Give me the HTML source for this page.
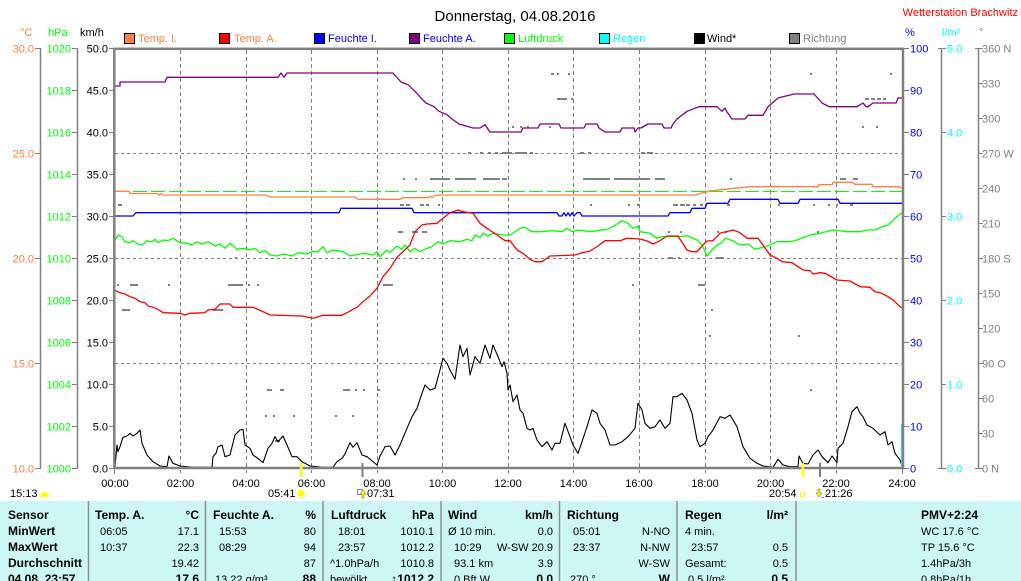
<!DOCTYPE html>
<html><head><meta charset="utf-8"><style>
html,body{margin:0;padding:0;background:#fff;}
svg{display:block;font-family:"Liberation Sans",Arial,sans-serif;}
</style></head><body>
<svg width="1021" height="581" viewBox="0 0 1021 581" xmlns="http://www.w3.org/2000/svg">
<rect x="0" y="0" width="1021" height="581" fill="#fff"/>
<!-- title -->
<text x="515" y="21" font-size="15" text-anchor="middle" fill="#000">Donnerstag, 04.08.2016</text>
<text x="1018" y="16" font-size="11" text-anchor="end" fill="#ff0000">Wetterstation Brachwitz</text>
<!-- units -->
<text x="20" y="36" font-size="11" fill="#ff8040">°C</text>
<text x="48" y="36" font-size="11" fill="#00ff00">hPa</text>
<text x="80" y="36" font-size="11" fill="#000">km/h</text>
<text x="905" y="36" font-size="11" fill="#0000ff">%</text>
<text x="942" y="36" font-size="11" fill="#00ffff">l/m²</text>
<text x="979" y="36" font-size="11" fill="#808080">°</text>
<!-- legend -->
<g font-size="11">
<rect x="124.5" y="33.5" width="10" height="10" fill="#ff8040" stroke="#000"/><text x="138" y="42" fill="#ff8040">Temp. I.</text>
<rect x="219.5" y="33.5" width="10" height="10" fill="#ff0000" stroke="#000"/><text x="234" y="42" fill="#ff8040">Temp. A.</text>
<rect x="314.5" y="33.5" width="10" height="10" fill="#0000ff" stroke="#000"/><text x="328" y="42" fill="#0000ff">Feuchte I.</text>
<rect x="409.5" y="33.5" width="10" height="10" fill="#800080" stroke="#000"/><text x="423" y="42" fill="#0000ff">Feuchte A.</text>
<rect x="504.5" y="33.5" width="10" height="10" fill="#00ff00" stroke="#000"/><text x="518" y="42" fill="#00ff00">Luftdruck</text>
<rect x="599.5" y="33.5" width="10" height="10" fill="#00ffff" stroke="#000"/><text x="613" y="42" fill="#00ffff">Regen</text>
<rect x="694.5" y="33.5" width="10" height="10" fill="#000" stroke="#000"/><text x="707" y="42" fill="#000">Wind*</text>
<rect x="789.5" y="33.5" width="10" height="10" fill="#808080" stroke="#000"/><text x="803" y="42" fill="#808080">Richtung</text>
</g>
<!-- grid -->
<g stroke="#808080" stroke-width="1" stroke-dasharray="4,3" fill="none">
<line x1="180.5" y1="50" x2="180.5" y2="473"/>
<line x1="246.5" y1="50" x2="246.5" y2="473"/>
<line x1="311.5" y1="50" x2="311.5" y2="473"/>
<line x1="377.5" y1="50" x2="377.5" y2="473"/>
<line x1="442.5" y1="50" x2="442.5" y2="473"/>
<line x1="508.5" y1="50" x2="508.5" y2="473"/>
<line x1="573.5" y1="50" x2="573.5" y2="473"/>
<line x1="639.5" y1="50" x2="639.5" y2="473"/>
<line x1="705.5" y1="50" x2="705.5" y2="473"/>
<line x1="770.5" y1="50" x2="770.5" y2="473"/>
<line x1="836.5" y1="50" x2="836.5" y2="473"/>
</g>
<g stroke="#808080" stroke-width="1" stroke-dasharray="3,3" fill="none">
<line x1="115" y1="153.5" x2="902" y2="153.5"/>
<line x1="115" y1="258.5" x2="902" y2="258.5"/>
<line x1="115" y1="363.5" x2="902" y2="363.5"/>
</g>
<!-- Richtung dots -->
<g fill="#808080">
<rect x="551" y="73" width="3" height="2"/><rect x="557" y="73" width="2" height="2"/><rect x="568" y="73" width="2" height="2"/><rect x="810" y="73" width="2" height="2"/><rect x="890" y="73" width="2" height="2"/>
<rect x="557" y="98" width="10" height="2"/><rect x="571" y="98" width="2" height="2"/><rect x="865" y="98" width="4" height="2"/><rect x="871" y="98" width="4" height="2"/><rect x="877" y="98" width="4" height="2"/><rect x="883" y="98" width="3" height="2"/>
<rect x="512" y="126" width="2" height="2"/><rect x="520" y="126" width="2" height="2"/><rect x="527" y="126" width="2" height="2"/><rect x="549" y="126" width="2" height="2"/><rect x="862" y="126" width="2" height="2"/><rect x="876" y="126" width="2" height="2"/>
<rect x="468" y="152" width="3" height="2"/><rect x="480" y="152" width="3" height="2"/><rect x="488" y="152" width="3" height="2"/><rect x="495" y="152" width="3" height="2"/><rect x="502" y="152" width="10" height="2"/><rect x="515" y="152" width="12" height="2"/><rect x="530" y="152" width="3" height="2"/><rect x="580" y="152" width="4" height="2"/><rect x="588" y="152" width="3" height="2"/><rect x="641" y="152" width="4" height="2"/><rect x="647" y="152" width="6" height="2"/>
<rect x="403" y="178" width="2" height="2"/><rect x="415" y="178" width="2" height="2"/><rect x="430" y="178" width="20" height="2"/><rect x="455" y="178" width="21" height="2"/><rect x="483" y="178" width="17" height="2"/><rect x="502" y="178" width="5" height="2"/><rect x="583" y="178" width="27" height="2"/><rect x="614" y="178" width="36" height="2"/><rect x="655" y="178" width="10" height="2"/><rect x="730" y="178" width="2" height="2"/><rect x="840" y="178" width="6" height="2"/><rect x="853" y="178" width="5" height="2"/>
<rect x="118" y="204" width="4" height="2"/><rect x="400" y="204" width="4" height="2"/><rect x="406" y="204" width="4" height="2"/><rect x="420" y="204" width="4" height="2"/><rect x="426" y="204" width="3" height="2"/><rect x="438" y="204" width="2" height="2"/><rect x="590" y="204" width="2" height="2"/><rect x="628" y="204" width="2" height="2"/><rect x="637" y="204" width="2" height="2"/><rect x="673" y="204" width="5" height="2"/><rect x="680" y="204" width="5" height="2"/><rect x="686" y="204" width="4" height="2"/><rect x="693" y="204" width="3" height="2"/><rect x="700" y="204" width="3" height="2"/><rect x="727" y="204" width="3" height="2"/><rect x="778" y="204" width="2" height="2"/><rect x="813" y="204" width="2" height="2"/><rect x="828" y="204" width="2" height="2"/><rect x="836" y="204" width="2" height="2"/><rect x="850" y="204" width="3" height="2"/>
<rect x="398" y="231" width="5" height="2"/><rect x="412" y="231" width="6" height="2"/><rect x="422" y="231" width="5" height="2"/><rect x="668" y="231" width="2" height="2"/><rect x="680" y="231" width="2" height="2"/><rect x="717" y="231" width="2" height="2"/><rect x="725" y="231" width="2" height="2"/><rect x="817" y="231" width="2" height="2"/>
<rect x="235" y="257" width="2" height="2"/><rect x="668" y="257" width="5" height="2"/><rect x="678" y="257" width="2" height="2"/><rect x="716" y="257" width="8" height="2"/>
<rect x="117" y="284" width="2" height="2"/><rect x="130" y="284" width="8" height="2"/><rect x="168" y="284" width="2" height="2"/><rect x="228" y="284" width="15" height="2"/><rect x="248" y="284" width="2" height="2"/><rect x="257" y="284" width="2" height="2"/><rect x="383" y="284" width="10" height="2"/><rect x="632" y="284" width="2" height="2"/><rect x="698" y="284" width="7" height="2"/>
<rect x="122" y="309" width="8" height="2"/><rect x="213" y="309" width="10" height="2"/><rect x="711" y="309" width="2" height="2"/>
<rect x="709" y="335" width="2" height="2"/><rect x="798" y="335" width="2" height="2"/>
<rect x="267" y="389" width="5" height="2"/><rect x="280" y="389" width="4" height="2"/><rect x="343" y="389" width="7" height="2"/><rect x="355" y="389" width="2" height="2"/><rect x="363" y="389" width="2" height="2"/><rect x="377" y="389" width="3" height="2"/><rect x="810" y="389" width="2" height="2"/>
<rect x="265" y="415" width="2" height="2"/><rect x="273" y="415" width="2" height="2"/><rect x="293" y="415" width="2" height="2"/><rect x="335" y="415" width="2" height="2"/><rect x="352" y="415" width="2" height="2"/>
<rect x="275" y="440" width="5" height="2"/>
</g>
<!-- Luftdruck avg dashed -->
<line x1="115" y1="191.5" x2="902" y2="191.5" stroke="#00ff00" stroke-width="1" stroke-dasharray="14,4"/>
<!-- series -->
<g fill="none" stroke-width="1.3" stroke-linejoin="round">
<polyline stroke="#800080" points="114,86 120,86 120,82 165,82 167,77.3 278,77.3 281,73 284,77.3 287,73 289,73 393,73 401,82 408,84.7 415,91.3 421,98 426,103 434,106.7 439,111.3 447,114.7 452,119 459,124 473,128 480,128 485,124.7 490,132 521,132 523,128 538,128 540,124 559,124 561,128 584,128 586,124 597,124 599,128 605,132 620,132 622,128 634,128 635,132 638,128 641,128 648,124 662,124 664,128 671,128 673,124 677,119 687,111.3 699,106.7 717,106.7 722,111.3 725,108 727,112 732,119 745,119 748,115.3 763,115.3 768,106.7 778,98 794,94 814,94 822,103 829,106.7 857,106.7 863,103 866,106.7 868,106.7 873,103 896,103 898,98 902,98"/>
<polyline stroke="#ff8040" points="114,191.3 129,191.3 130,193.5 157,193.5 159,195 161,193.5 163,195 166,195 266,195 270,197 355,197 358,199.3 400,199.3 403,197.7 428,197.7 430,196 432,197.7 434,196 437,195 697,195 700,193.3 707,192 709,191 725,189.3 750,186.7 818,186.7 819,184.7 832,184.7 833,182.3 852,182.3 855,184.3 872,184.3 873,186.7 898,186.7 902,187.7"/>
<polyline stroke="#0000ff" points="114,216 133,216 136,212.7 339,212.7 341,208.3 412,208.3 414,212.7 557,212.7 559,216 562,216 564,212.7 566,216 568,212.7 570,216 572,212.7 574,216 577,212.7 580,212.7 582,216 668,216 670,212.7 690,212.7 692,208.3 705,208.3 707,203.3 728,203.3 730,199.3 778,199.3 780,203.3 798,203.3 800,199.3 838,199.3 840,203.3 902,203.3"/>
<polyline stroke="#00ff00" points="115,240 118,235 122,236.7 125,241.7 130,242.7 133,240.7 138,244 142,245 147,240.7 152,241.7 155,239.3 158,242.7 163,240 168,240.7 173,238.3 180,242.7 187,243.3 192,245 197,241.7 202,244 208,241.7 215,246 220,244 225,248.3 230,243.3 237,249.3 243,248.3 250,250 255,248.3 260,252.7 265,250.7 270,255 277,256 283,254 292,256 298,252.7 307,254 312,251.7 318,251.7 323,246.7 327,252.7 333,250 343,251.7 350,256 363,253.3 373,255 377,251.7 380,256.7 387,250 390,252.7 397,246 402,249.3 405,245 410,251.7 415,248.3 420,251.7 427,248.3 432,246.7 438,241.7 443,244 450,240.7 460,241.7 467,239.3 472,240.7 475,235 480,237.3 483,233.3 488,236 493,233.3 503,235 505,235 510,235 520,228.3 525,227.3 532,231.7 540,231.7 553,230.7 562,231.7 567,228.3 572,231.7 578,230 590,231.7 607,229.3 613,226.7 622,220.7 628,223.3 633,228.3 638,226 640,231.7 650,233.3 657,238.3 662,236.7 673,236.7 688,236 697,240 702,245 707,256 712,250 717,245 722,242.7 725,238.3 733,240.7 740,245 748,244 755,249.3 763,247.3 770,245 777,241.7 790,241.7 797,240 810,235 820,233.3 833,230 847,231.7 860,231.7 867,230 875,230 882,226.7 888,225 895,218.3 902,212.7"/>
<polyline stroke="#ff0000" points="114,290 120,292.7 125,294 130,296.7 135,298.3 140,301.7 145,302.7 148,306 153,307.3 158,309.3 163,312.7 180,313.3 185,315 190,313.3 205,312.7 208,310 215,309.3 220,304 230,304 233,307.3 253,307.3 263,311.7 270,315 302,316 313,318.3 323,315.3 342,315.3 347,312.7 357,307.3 363,301.7 370,296 377,288.3 383,276.7 390,268.3 397,257.3 403,251.7 410,245 415,231.7 422,225 427,224 437,223.3 443,218.3 450,212.7 458,210 463,211.7 473,213.3 480,223.3 487,228.3 497,235 505,240.7 510,240.7 517,250 523,253.3 530,259.3 535,261.7 542,261.7 550,256 575,255 582,252.7 590,251 598,246 605,240.7 620,240.7 627,238.3 640,239 647,241 653,244 660,240.7 667,236 678,236 687,250 692,251.7 697,251.7 703,245 707,241 713,240.7 720,233.3 733,230 740,232.7 747,238.3 758,238.3 763,245 770,255 777,258.3 782,261.7 792,262.7 798,266.7 803,270 810,270.7 813,274 820,272.7 825,273.3 830,276 837,280 850,281 860,286.7 870,287.3 875,291.7 880,292.7 887,296 893,300 900,306.7 902,308"/>
<polyline stroke="#000" stroke-width="1.1" points="115,466.7 117,445 118,451.7 120,446.7 123,437.3 127,436 130,433.3 133,436 137,433.3 140,430 142,443.3 147,455 153,461.7 160,466 167,466.7 169,456 173,463.3 180,466 193,467.3 212,467.3 213,456.7 216,453.3 218,446.7 222,445 225,456.7 230,455 235,435 240,430 243,429.3 245,445 250,448.3 253,455 260,460 263,462.7 268,448.3 272,443.3 275,436.7 278,441.7 283,436 287,445 292,456.7 297,456.7 302,461.7 310,466 323,467.3 333,467.3 337,461.7 342,458.3 345,454 350,442.7 353,447.3 357,442.7 362,455 367,456.7 377,465 380,456 385,446.7 390,446 395,455 400,445 407,428.3 412,416.7 417,408.3 422,393.3 425,385 430,390 435,388.3 440,370 443,358.3 447,363.3 450,370 455,379.3 460,345 463,356.7 467,348.3 470,375 475,356.7 480,363.3 485,345 490,358.3 493,345 498,356.7 502,366.7 504,361.7 507,373.3 508,390 510,385 513,401.7 517,395 520,410 523,413.3 527,428.3 530,430 533,428.3 537,440 542,446.7 547,441.7 552,450 555,443.3 560,443.3 565,423.3 570,436.7 573,445 578,453.3 582,441.7 587,426.7 592,410 597,413.3 600,423.3 605,430 610,445 615,445 622,441.7 628,436.7 635,428.3 638,403.3 642,410 645,423.3 650,428.3 655,426.7 660,420 665,428.3 670,423.3 673,396.7 677,396.7 682,393.3 687,400 692,413.3 697,440 700,446.7 705,443.3 708,436.7 713,430 720,416.7 725,418.3 730,415 737,426.7 743,446.7 750,458.3 757,463.3 763,466 773,467.3 778,459.3 783,465 790,466.7 798,466.7 799,456 803,463.3 808,464 813,455 818,450 822,456.7 828,462.7 832,456 837,462.7 838,448.3 843,443.3 848,426.7 852,411.7 857,406.7 860,413.3 863,416.7 867,425 873,428.3 880,435 885,431.7 888,445 892,441.7 895,453.3 900,460 902,466"/>
</g>
<rect x="901" y="424" width="2.5" height="44" fill="#00ffff"/>
<!-- plot border -->
<rect x="114.3" y="48.8" width="788.7" height="419.2" fill="none" stroke="#808080" stroke-width="2.5"/>
<!-- bottom axis ticks -->
<g stroke="#808080" stroke-width="1">
<line x1="114.5" y1="468" x2="114.5" y2="474"/>
<line x1="902.5" y1="468" x2="902.5" y2="474"/>
</g>
<!-- left axes -->
<g stroke="#808080" stroke-width="1.5">
<line x1="40.5" y1="48" x2="40.5" y2="468"/>
<line x1="77.5" y1="48" x2="77.5" y2="468"/>
<line x1="941.5" y1="48" x2="941.5" y2="468"/>
<line x1="978.5" y1="48" x2="978.5" y2="468"/>
</g>
<g stroke="#808080" stroke-width="1">
<line x1="35" y1="48.5" x2="41" y2="48.5"/><line x1="35" y1="153.5" x2="41" y2="153.5"/><line x1="35" y1="258.5" x2="41" y2="258.5"/><line x1="35" y1="363.5" x2="41" y2="363.5"/><line x1="35" y1="468.5" x2="41" y2="468.5"/>
<line x1="72" y1="48.5" x2="78" y2="48.5"/><line x1="72" y1="90.5" x2="78" y2="90.5"/><line x1="72" y1="132.5" x2="78" y2="132.5"/><line x1="72" y1="174.5" x2="78" y2="174.5"/><line x1="72" y1="216.5" x2="78" y2="216.5"/><line x1="72" y1="258.5" x2="78" y2="258.5"/><line x1="72" y1="300.5" x2="78" y2="300.5"/><line x1="72" y1="342.5" x2="78" y2="342.5"/><line x1="72" y1="384.5" x2="78" y2="384.5"/><line x1="72" y1="426.5" x2="78" y2="426.5"/><line x1="72" y1="468.5" x2="78" y2="468.5"/>
<line x1="109" y1="48.5" x2="114" y2="48.5"/><line x1="109" y1="90.5" x2="114" y2="90.5"/><line x1="109" y1="132.5" x2="114" y2="132.5"/><line x1="109" y1="174.5" x2="114" y2="174.5"/><line x1="109" y1="216.5" x2="114" y2="216.5"/><line x1="109" y1="258.5" x2="114" y2="258.5"/><line x1="109" y1="300.5" x2="114" y2="300.5"/><line x1="109" y1="342.5" x2="114" y2="342.5"/><line x1="109" y1="384.5" x2="114" y2="384.5"/><line x1="109" y1="426.5" x2="114" y2="426.5"/><line x1="109" y1="468.5" x2="114" y2="468.5"/>
<line x1="904" y1="48.5" x2="909" y2="48.5"/><line x1="904" y1="90.5" x2="909" y2="90.5"/><line x1="904" y1="132.5" x2="909" y2="132.5"/><line x1="904" y1="174.5" x2="909" y2="174.5"/><line x1="904" y1="216.5" x2="909" y2="216.5"/><line x1="904" y1="258.5" x2="909" y2="258.5"/><line x1="904" y1="300.5" x2="909" y2="300.5"/><line x1="904" y1="342.5" x2="909" y2="342.5"/><line x1="904" y1="384.5" x2="909" y2="384.5"/><line x1="904" y1="426.5" x2="909" y2="426.5"/><line x1="904" y1="468.5" x2="909" y2="468.5"/>
<line x1="938" y1="48.5" x2="946" y2="48.5"/><line x1="941" y1="132.5" x2="946" y2="132.5"/><line x1="941" y1="216.5" x2="946" y2="216.5"/><line x1="941" y1="300.5" x2="946" y2="300.5"/><line x1="941" y1="384.5" x2="946" y2="384.5"/><line x1="938" y1="468.5" x2="946" y2="468.5"/>
<line x1="975" y1="48.5" x2="983" y2="48.5"/><line x1="978" y1="83.5" x2="983" y2="83.5"/><line x1="978" y1="118.5" x2="983" y2="118.5"/><line x1="978" y1="153.5" x2="983" y2="153.5"/><line x1="978" y1="188.5" x2="983" y2="188.5"/><line x1="978" y1="223.5" x2="983" y2="223.5"/><line x1="978" y1="258.5" x2="983" y2="258.5"/><line x1="978" y1="293.5" x2="983" y2="293.5"/><line x1="978" y1="328.5" x2="983" y2="328.5"/><line x1="978" y1="363.5" x2="983" y2="363.5"/><line x1="978" y1="398.5" x2="983" y2="398.5"/><line x1="978" y1="433.5" x2="983" y2="433.5"/><line x1="975" y1="468.5" x2="983" y2="468.5"/>
</g>
<g font-size="11" text-anchor="end" fill="#ff8040">
<text x="34" y="52.5">30.0</text><text x="34" y="157.5">25.0</text><text x="34" y="262.5">20.0</text><text x="34" y="367.5">15.0</text><text x="34" y="472.5">10.0</text>
</g>
<g font-size="11" text-anchor="end" fill="#00ff00">
<text x="71" y="52.5">1020</text><text x="71" y="94.5">1018</text><text x="71" y="136.5">1016</text><text x="71" y="178.5">1014</text><text x="71" y="220.5">1012</text><text x="71" y="262.5">1010</text><text x="71" y="304.5">1008</text><text x="71" y="346.5">1006</text><text x="71" y="388.5">1004</text><text x="71" y="430.5">1002</text><text x="71" y="472.5">1000</text>
</g>
<g font-size="11" text-anchor="end" fill="#000">
<text x="108" y="52.5">50.0</text><text x="108" y="94.5">45.0</text><text x="108" y="136.5">40.0</text><text x="108" y="178.5">35.0</text><text x="108" y="220.5">30.0</text><text x="108" y="262.5">25.0</text><text x="108" y="304.5">20.0</text><text x="108" y="346.5">15.0</text><text x="108" y="388.5">10.0</text><text x="108" y="430.5">5.0</text><text x="108" y="472.5">0.0</text>
</g>
<g font-size="11" fill="#0000ff">
<text x="910" y="52.5">100</text><text x="910" y="94.5">90</text><text x="910" y="136.5">80</text><text x="910" y="178.5">70</text><text x="910" y="220.5">60</text><text x="910" y="262.5">50</text><text x="910" y="304.5">40</text><text x="910" y="346.5">30</text><text x="910" y="388.5">20</text><text x="910" y="430.5">10</text><text x="910" y="472.5">0</text>
</g>
<g font-size="11" fill="#00ffff">
<text x="947" y="52.5">5.0</text><text x="947" y="136.5">4.0</text><text x="947" y="220.5">3.0</text><text x="947" y="304.5">2.0</text><text x="947" y="388.5">1.0</text><text x="947" y="472.5">0.0</text>
</g>
<g font-size="11" fill="#808080">
<text x="982" y="52.5">360 N</text><text x="982" y="87.5">330</text><text x="982" y="122.5">300</text><text x="982" y="157.5">270 W</text><text x="982" y="192.5">240</text><text x="982" y="227.5">210</text><text x="982" y="262.5">180 S</text><text x="982" y="297.5">150</text><text x="982" y="332.5">120</text><text x="982" y="367.5">90 O</text><text x="982" y="402.5">60</text><text x="982" y="437.5">30</text><text x="982" y="472.5">0 N</text>
</g>
<!-- time labels -->
<g font-size="11" text-anchor="middle" fill="#000">
<text x="115" y="487">00:00</text><text x="180.5" y="487">02:00</text><text x="246" y="487">04:00</text><text x="311.5" y="487">06:00</text><text x="377" y="487">08:00</text><text x="442.5" y="487">10:00</text><text x="508" y="487">12:00</text><text x="573.5" y="487">14:00</text><text x="639" y="487">16:00</text><text x="705" y="487">18:00</text><text x="770.5" y="487">20:00</text><text x="836" y="487">22:00</text><text x="902" y="487">24:00</text>
</g>
<!-- event markers -->
<rect x="300" y="463" width="2.5" height="14" fill="#ffff00"/>
<rect x="361.5" y="463" width="2" height="14" fill="#808080"/>
<rect x="801.5" y="463" width="2.5" height="14" fill="#ffff00"/>
<rect x="819" y="463" width="2" height="14" fill="#808080"/>
<g font-size="11" fill="#000">
<text x="10" y="497">15:13</text>
<text x="268" y="497">05:41</text>
<text x="367" y="497">07:31</text>
<text x="769" y="497">20:54</text>
<text x="825" y="497">21:26</text>
</g>
<path d="M40,497 a4.5,5 0 0 1 9,0 z" fill="#ffff00"/>
<circle cx="301" cy="493.5" r="3" fill="#ffff00"/>
<g stroke="#ffff00" stroke-width="1"><line x1="296" y1="493.5" x2="306" y2="493.5"/><line x1="301" y1="488.5" x2="301" y2="498.5"/><line x1="297.5" y1="490" x2="304.5" y2="497"/><line x1="304.5" y1="490" x2="297.5" y2="497"/></g>
<rect x="357.5" y="489.5" width="5" height="5" fill="none" stroke="#0000ff" stroke-width="1" stroke-dasharray="1,1"/>
<path d="M363,490 l-3,4 h2 v4 h2 v-4 h2 z" fill="#ffff00" stroke="#806000" stroke-width="0.5"/>
<rect x="800.5" y="492.5" width="4" height="4" fill="none" stroke="#ffff00" stroke-width="1"/>
<path d="M819,497 l-3,-4 h2 v-4 h2 v4 h2 z" fill="#ffff00" stroke="#806000" stroke-width="0.5"/>
<rect x="821" y="497" width="3" height="1" fill="#8080ff"/>
<!-- table -->
<rect x="0" y="501" width="1021" height="80" fill="#ccf7f4"/>
<g stroke="#909090" stroke-width="1.5">
<line x1="88.5" y1="501" x2="88.5" y2="581"/><line x1="205.5" y1="501" x2="205.5" y2="581"/><line x1="323" y1="501" x2="323" y2="581"/><line x1="441" y1="501" x2="441" y2="581"/><line x1="559.5" y1="501" x2="559.5" y2="581"/><line x1="677" y1="501" x2="677" y2="581"/><line x1="796" y1="501" x2="796" y2="581"/>
</g>
<g font-size="12" font-weight="bold" fill="#000">
<text x="8" y="519">Sensor</text><text x="8" y="535">MinWert</text><text x="8" y="551">MaxWert</text><text x="8" y="567">Durchschnitt</text><text x="8" y="583">04.08. 23:57</text>
<text x="95" y="519">Temp. A.</text><text x="199" y="519" text-anchor="end">°C</text>
<text x="213" y="519">Feuchte A.</text><text x="316" y="519" text-anchor="end">%</text>
<text x="331" y="519">Luftdruck</text><text x="434" y="519" text-anchor="end">hPa</text>
<text x="448" y="519">Wind</text><text x="553" y="519" text-anchor="end">km/h</text>
<text x="567" y="519">Richtung</text>
<text x="685" y="519">Regen</text><text x="788" y="519" text-anchor="end">l/m²</text>
<text x="921" y="519">PMV+2:24</text>
<text x="199" y="583" text-anchor="end">17.6</text>
<text x="316" y="583" text-anchor="end">88</text>
<text x="434" y="583" text-anchor="end">↑1012.2</text>
<text x="553" y="583" text-anchor="end">0.0</text>
<text x="670" y="583" text-anchor="end">W</text>
<text x="788" y="583" text-anchor="end">0.5</text>
</g>
<g font-size="11" fill="#000">
<text x="100" y="535">06:05</text><text x="199" y="535" text-anchor="end">17.1</text>
<text x="100" y="551">10:37</text><text x="199" y="551" text-anchor="end">22.3</text>
<text x="199" y="567" text-anchor="end">19.42</text>
<text x="219" y="535">15:53</text><text x="316" y="535" text-anchor="end">80</text>
<text x="219" y="551">08:29</text><text x="316" y="551" text-anchor="end">94</text>
<text x="316" y="567" text-anchor="end">87</text>
<text x="215" y="583">13.22 g/m³</text>
<text x="338" y="535">18:01</text><text x="434" y="535" text-anchor="end">1010.1</text>
<text x="338" y="551">23:57</text><text x="434" y="551" text-anchor="end">1012.2</text>
<text x="330" y="567">^1.0hPa/h</text><text x="434" y="567" text-anchor="end">1010.8</text>
<text x="330" y="583">bewölkt</text>
<text x="448" y="535">Ø 10 min.</text><text x="553" y="535" text-anchor="end">0.0</text>
<text x="454" y="551">10:29</text><text x="553" y="551" text-anchor="end">W-SW 20.9</text>
<text x="454" y="567">93.1 km</text><text x="553" y="567" text-anchor="end">3.9</text>
<text x="454" y="583">0 Bft W</text>
<text x="573" y="535">05:01</text><text x="670" y="535" text-anchor="end">N-NO</text>
<text x="573" y="551">23:37</text><text x="670" y="551" text-anchor="end">N-NW</text>
<text x="670" y="567" text-anchor="end">W-SW</text>
<text x="570" y="583">270 °</text>
<text x="685" y="535">4 min.</text>
<text x="691" y="551">23:57</text><text x="788" y="551" text-anchor="end">0.5</text>
<text x="685" y="567">Gesamt:</text><text x="788" y="567" text-anchor="end">0.5</text>
<text x="688" y="583">0.5 l/m²</text>
<text x="921" y="535">WC 17.6 °C</text>
<text x="921" y="551">TP 15.6 °C</text>
<text x="921" y="567">1.4hPa/3h</text>
<text x="921" y="583">0.8hPa/1h</text>
</g>
</svg>
</body></html>
